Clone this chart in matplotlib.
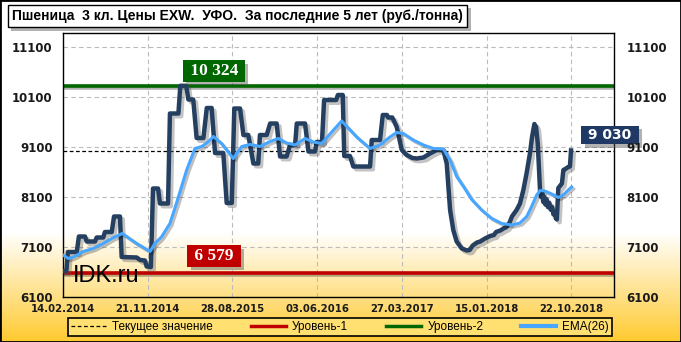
import numpy as np
import matplotlib.pyplot as plt
import matplotlib.patheffects as pe
from matplotlib.patches import Rectangle
from matplotlib.lines import Line2D

# x = weeks since 14.02.2014
price_weeks = [0, 1.6, 2.3, 6.5, 7.5, 10.4, 11.2, 15.1, 15.9, 19.0, 19.8, 23.0, 24.1, 26.9,
               27.7, 34.8, 36.4, 38.7, 39.5, 41.5, 42.5, 44.9, 45.8, 49.6, 50.5, 54.5, 55.4,
               58.2, 59.2, 61.5, 63.1, 66.3, 67.9, 70.2, 71.8, 75.7, 77.3, 79.7, 80.9, 83.6,
               85.2, 87.5, 89.9, 92.2, 93.0, 96.2, 97.8, 100.9, 102.5, 105.6, 107.2, 109.6,
               110.4, 114.3, 115.9, 119.0, 119.8, 122.3, 123.3, 129.0, 129.8, 132.1, 132.8,
               135.5, 137.1, 145.0, 145.8, 149.7, 151.0, 153.0, 153.5, 155.5, 157.6, 160.0,
               162.3, 165.0, 167.0, 170.2, 173.3, 176.5, 179.6, 181.2, 182.0, 182.8, 184.3,
               185.9, 188.3, 190.8, 192.0, 193.5, 195.5, 197.0, 199.3, 201.7, 203.5, 204.5,
               206.5, 208.0, 209.5, 211.0, 212.0, 214.2, 215.8, 217.4, 218.9, 220.5, 221.5,
               222.6, 223.4, 224.2, 224.8, 225.3, 225.8, 226.3, 226.8, 227.3, 227.8, 228.4,
               229.0, 229.6, 230.3, 231.0, 231.6, 232.2, 232.7, 233.2, 233.9, 235.6, 236.3,
               237.2, 238.6, 239.4, 239.9]
price_values = [6620, 6620, 7000, 7000, 7310, 7310, 7210, 7210, 7290, 7290, 7400, 7400, 7710, 7710,
                6900, 6890, 6840, 6830, 6710, 6700, 8270, 8270, 7970, 7970, 9770, 9770, 10324,
                10324, 10050, 10050, 9280, 9280, 9880, 9880, 8980, 8980, 7980, 7980, 9870, 9870,
                9340, 9340, 8770, 8770, 9340, 9340, 9570, 9570, 8910, 8910, 9140, 9140,
                9570, 9570, 9010, 9010, 9200, 9200, 10040, 10040, 10140, 10140, 8920,
                8920, 8710, 8710, 9240, 9240, 9740, 9740, 9690, 9690, 9500, 9040,
                8940, 8880, 8870, 8890, 8970, 9040, 9040, 8770, 8310, 7840, 7440,
                7210, 7070, 7030, 7040, 7130, 7190, 7210, 7270, 7320, 7340, 7400,
                7430, 7470, 7500, 7600, 7710, 7840, 7970, 8240, 8570, 8970, 9300,
                9560, 9500, 9170, 8650, 8200, 8100, 8180, 8000, 8100, 7950, 8050,
                7900, 7980, 7850, 7900, 7750, 7800, 7680, 7650, 8280, 8370, 8640,
                8660, 8700, 8710, 9030]

ema_weeks = [0, 2.5, 5.0, 9.6, 14.3, 19.0, 23.0, 28.0, 34.8, 41.1, 43.4, 46.5, 50.5, 53.7, 58.4,
             62.3, 65.5, 68.5, 71.0, 74.9, 80.4, 84.4, 88.3, 93.0, 97.8, 101.7, 105.6, 109.6,
             114.3, 118.2, 122.2, 126.9, 131.6, 138.7, 145.0, 149.7, 154.4, 157.6, 160.7, 165.4,
             170.2, 174.9, 179.6, 182.8, 185.9, 189.4, 193.0, 197.7, 202.5, 207.2, 211.9, 215.8,
             219.0, 221.3, 223.7, 225.3, 227.5, 230.8, 233.9, 236.3, 238.6, 240.2]
ema_values = [6940, 6870, 6900, 7010, 7070, 7170, 7270, 7370, 7170, 7010, 7170, 7300, 7570, 7990, 8640,
              9070, 9110, 9200, 9310, 9170, 8870, 9110, 9150, 9110, 9210, 9270, 9180, 9140,
              9270, 9200, 9170, 9400, 9620, 9300, 9070, 9140, 9300, 9390, 9370, 9240,
              9140, 9070, 9060, 8840, 8510, 8290, 8050, 7840, 7670, 7570, 7540, 7580,
              7710, 7910, 8140, 8230, 8220, 8160, 8090, 8140, 8240, 8300]

level1 = 6579
level2 = 10324
current = 9030

tick_weeks = [0, 40, 80, 120, 160, 200, 240]
tick_labels = ['14.02.2014', '21.11.2014', '28.08.2015', '03.06.2016',
               '27.03.2017', '15.01.2018', '22.10.2018']
y_ticks = [6100, 7100, 8100, 9100, 10100, 11100]

title = 'Пшеница  3 кл. Цены EXW.  УФО.  За последние 5 лет (руб./тонна)'
legend_labels = ['Текущее значение', 'Уровень-1', 'Уровень-2', 'EMA(26)']

W, H = 681, 342
fig = plt.figure(figsize=(W / 100, H / 100), dpi=100)

# background: white fading to gold at the bottom
bg = fig.add_axes([0, 0, 1, 1], zorder=-10)
bg.set_axis_off()
rows = np.arange(H)
t = np.clip((rows - 232) / (H - 232), 0, 1)
gold = np.array([1.0, 0.79, 0.18])
grad = (1 - t[:, None]) * np.ones(3)[None, :] + t[:, None] * gold[None, :]
bg.imshow(grad[:, None, :], aspect='auto', extent=[0, 1, 0, 1])
bg.set_xlim(0, 1)
bg.set_ylim(0, 1)
bg.add_patch(Rectangle((0, 0), 1, 1, transform=bg.transAxes, fill=False, lw=2, ec='black'))

ax = fig.add_axes([63 / W, 45 / H, 551 / W, 264 / H])
ax.set_facecolor('none')
ax.set_xlim(0, 260.2)
ax.set_ylim(6100, 11380)
ax.set_xticks(tick_weeks)
ax.set_xticklabels(tick_labels, fontsize=7.3, fontweight='bold', color='#1a1a1a')
ax.set_yticks(y_ticks)
ax.set_yticklabels([str(v) for v in y_ticks], fontsize=8.5, fontweight='bold', color='#1a1a1a')
ax.tick_params(axis='both', length=0)
ax.tick_params(axis='y', pad=7.5)
ax.tick_params(axis='x', pad=5)
ax.grid(True, ls=(0, (4, 3)), color='#BBBBBB', lw=0.8)
for s in ax.spines.values():
    s.set_linewidth(1)
    s.set_color('black')

ax2 = ax.twinx()
ax2.set_ylim(ax.get_ylim())
ax2.set_yticks(y_ticks)
ax2.set_yticklabels([str(v) for v in y_ticks], fontsize=8.5, fontweight='bold', color='#1a1a1a')
ax2.tick_params(axis='y', length=0, pad=9)
for s in ax2.spines.values():
    s.set_visible(False)

shadow = [pe.SimpleLineShadow(offset=(2, -2), shadow_color='#555555', alpha=0.35), pe.Normal()]

ax.axhline(current, color='black', lw=0.9, ls=(0, (3, 2)), zorder=2)
ax.axhline(level2, color='#006600', lw=2.6, zorder=2,
           path_effects=[pe.SimpleLineShadow(offset=(1, -1.5), alpha=0.3), pe.Normal()])
ax.axhline(level1, color='#C00000', lw=2.6, zorder=2,
           path_effects=[pe.SimpleLineShadow(offset=(1, -1.5), alpha=0.3), pe.Normal()])

ax.text(4.7, 6390, 'IDK.ru', fontsize=17, family='Liberation Sans', color='black',
        va='baseline', ha='left', zorder=3)

ax.plot(price_weeks, price_values, color='#243F60', lw=3.2, solid_joinstyle='round',
        path_effects=shadow, zorder=4)
ax.plot(ema_weeks, ema_values, color='#47A6FF', lw=2.2, solid_joinstyle='round',
        path_effects=[pe.SimpleLineShadow(offset=(1.5, -1.5), alpha=0.25), pe.Normal()], zorder=5)

box_shadow = [pe.SimplePatchShadow(offset=(2.5, -2.5), shadow_rgbFace='#555555', alpha=0.45),
              pe.Normal()]


def tag(x, y, s, fc, size, family):
    txt = ax.text(x, y, s, color='white', ha='center', va='center', fontsize=size,
                  fontweight='bold', family=family, clip_on=False, zorder=6,
                  bbox=dict(boxstyle='square,pad=0.15', fc=fc, ec='none'))
    txt.get_bbox_patch().set_path_effects(box_shadow)


def fmt(v):
    return f' {v:,} '.replace(',', ' ')


tag(71.3, 10620, fmt(level2), '#006600', 12.5, 'Liberation Serif')
tag(71.3, 6920, fmt(level1), '#C00000', 12.5, 'Liberation Serif')
tag(258.3, 9340, fmt(current), '#1F3864', 10, 'DejaVu Sans')

# title box
ttl = fig.text(12 / W, 1 - 16 / H, title, color='black', ha='left', va='center',
               fontsize=10, fontweight='bold', family='Liberation Sans',
               bbox=dict(boxstyle='square,pad=0.3', fc='white', ec='black', lw=1))
ttl.get_bbox_patch().set_path_effects(box_shadow)

handles = [Line2D([], [], color='black', lw=0.9, ls=(0, (3, 2))),
           Line2D([], [], color='#C00000', lw=2.5),
           Line2D([], [], color='#006600', lw=2.5),
           Line2D([], [], color='#47A6FF', lw=3)]
leg = fig.legend(handles, legend_labels, ncol=4, loc='center',
                 bbox_to_anchor=(340 / W, 1 - 327 / H), handlelength=3.0,
                 columnspacing=3.2, handletextpad=0.5, borderpad=0.25, frameon=True,
                 fancybox=False, edgecolor='black', facecolor='#FFE070', framealpha=1,
                 prop={'family': 'Liberation Sans', 'size': 8.5})
leg.get_frame().set_linewidth(1.2)

fig.savefig('out.png', dpi=100)
